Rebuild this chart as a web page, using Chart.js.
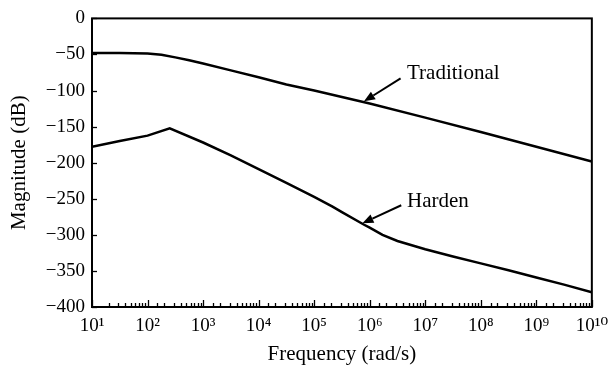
<!DOCTYPE html>
<html>
<head>
<meta charset="utf-8">
<script src="https://cdn.jsdelivr.net/npm/chart.js@4"></script>
<style>
  html, body { margin: 0; padding: 0; background: #fff; }
  #wrap { width: 616px; height: 370px; }
</style>
</head>
<body>
<div id="wrap"><canvas id="myChart" width="616" height="370"></canvas></div>
<script>
// frequency (rad/s) and magnitude (dB)
const tradFreq = [1e1, 3.16e1, 1e2, 1.78e2, 3.16e2, 5.62e2, 1e3, 3.16e3, 1e4, 3.16e4, 1e5, 1e6, 1e7, 1e8, 1e9, 1e10];
const tradMag  = [-48, -48, -48.5, -50.5, -54, -58, -62.5, -72, -81.5, -91.5, -100, -118, -137.5, -157.5, -178, -198.5];

const hardFreq = [1e1, 3.16e1, 1e2, 2.51e2, 1e3, 3.16e3, 1e4, 3.16e4, 1e5, 2.14e5, 3.16e5, 7.94e5, 1e6, 1.7e6, 3.16e6, 1e7, 3.16e7, 1e8, 3.16e8, 1e9, 3.16e9, 1e10];
const hardMag  = [-178, -170, -162.5, -152.5, -172, -190, -209, -228, -247.5, -261, -268.5, -286, -290, -300, -308.5, -320, -330, -339.5, -349, -359, -369, -379.5];

const yTicks = [0, -50, -100, -150, -200, -250, -300, -350, -400];
const supers = ['⁰', '¹', '²', '³', '⁴', '⁵', '⁶', '⁷', '⁸', '⁹'];

// labels with arrows: text anchor and arrow tail/tip in data units
const notes = [
  { text: 'Traditional', at: [4.7e6, -76], tail: [3.6e6, -83], tip: [7.9e5, -115] },
  { text: 'Harden', at: [4.7e6, -254], tail: [3.7e6, -259], tip: [7.4e5, -284] }
];

const FONT = '"Liberation Serif", "DejaVu Serif", serif';

function toPts(xs, ys) {
  return xs.map((x, i) => ({ x: x, y: ys[i] }));
}

function supNum(n) {
  return String(n).split('').map(d => supers[+d]).join('');
}

const frameAndTicks = {
  id: 'frameAndTicks',
  afterDraw(chart) {
    const ctx = chart.ctx;
    const a = chart.chartArea;
    const xs = chart.scales.x, ys = chart.scales.y;
    ctx.save();
    ctx.strokeStyle = '#000';
    ctx.lineWidth = 2;
    ctx.strokeRect(a.left, a.top, a.right - a.left, a.bottom - a.top);

    // inward ticks on bottom axis
    ctx.lineWidth = 1.3;
    xs.ticks.forEach(t => {
      const v = t.value;
      const e = Math.floor(Math.log10(v) + 1e-9);
      const m = Math.round(v / Math.pow(10, e));
      const len = m === 1 ? 7 : 4;
      const px = Math.round(xs.getPixelForValue(v)) + 0.5;
      ctx.beginPath();
      ctx.moveTo(px, a.bottom);
      ctx.lineTo(px, a.bottom - len);
      ctx.stroke();
    });
    // inward ticks on left axis
    yTicks.forEach(v => {
      const py = Math.round(ys.getPixelForValue(v)) + 0.5;
      ctx.beginPath();
      ctx.moveTo(a.left, py);
      ctx.lineTo(a.left + 5, py);
      ctx.stroke();
    });

    // notes with arrows
    ctx.fillStyle = '#000';
    ctx.font = '21px ' + FONT;
    ctx.textBaseline = 'middle';
    ctx.textAlign = 'left';
    notes.forEach(n => {
      ctx.fillText(n.text, xs.getPixelForValue(n.at[0]), ys.getPixelForValue(n.at[1]));
      const x0 = xs.getPixelForValue(n.tail[0]), y0 = ys.getPixelForValue(n.tail[1]);
      const x1 = xs.getPixelForValue(n.tip[0]), y1 = ys.getPixelForValue(n.tip[1]);
      const ang = Math.atan2(y1 - y0, x1 - x0);
      const hl = 11, hw = 4.5;
      const bx = x1 - hl * Math.cos(ang), by = y1 - hl * Math.sin(ang);
      ctx.lineWidth = 2;
      ctx.beginPath();
      ctx.moveTo(x0, y0);
      ctx.lineTo(bx, by);
      ctx.stroke();
      ctx.beginPath();
      ctx.moveTo(x1, y1);
      ctx.lineTo(bx + hw * Math.sin(ang), by - hw * Math.cos(ang));
      ctx.lineTo(bx - hw * Math.sin(ang), by + hw * Math.cos(ang));
      ctx.closePath();
      ctx.fill();
    });
    ctx.restore();
  }
};

const config = {
  type: 'line',
  data: {
    datasets: [{
      label: 'Traditional',
      data: toPts(tradFreq, tradMag),
      borderColor: '#000',
      borderWidth: 2.5,
      pointRadius: 0,
      tension: 0
    }, {
      label: 'Harden',
      data: toPts(hardFreq, hardMag),
      borderColor: '#000',
      borderWidth: 2.5,
      pointRadius: 0,
      tension: 0
    }]
  },
  options: {
    responsive: false,
    animation: false,
    layout: { padding: { left: 0, top: 16, right: 23, bottom: 0 } },
    plugins: {
      legend: { display: false },
      tooltip: { enabled: false }
    },
    scales: {
      x: {
        type: 'logarithmic',
        min: 1e1,
        max: 1e10,
        afterFit: s => { s.height = 63; },
        grid: { display: false, drawTicks: false },
        border: { display: false },
        ticks: {
          autoSkip: false,
          maxRotation: 0,
          padding: 8,
          color: '#000',
          font: { family: FONT, size: 19 },
          callback: function (v) {
            const e = Math.log10(v);
            if (Math.abs(e - Math.round(e)) < 1e-6) return '10' + supNum(Math.round(e));
            return '';
          }
        },
        title: {
          display: true,
          text: 'Frequency (rad/s)',
          color: '#000',
          font: { family: FONT, size: 21 },
          padding: { top: 0, bottom: 3 }
        }
      },
      y: {
        min: -400,
        max: 0,
        afterFit: s => { s.width = 92; },
        grid: { display: false, drawTicks: false },
        border: { display: false },
        ticks: {
          stepSize: 50,
          padding: 7,
          color: '#000',
          font: { family: FONT, size: 19 },
          callback: v => (v < 0 ? '\u2212' + Math.abs(v) : String(v))
        },
        title: {
          display: true,
          text: 'Magnitude (dB)',
          color: '#000',
          font: { family: FONT, size: 21 },
          padding: { top: 7, bottom: 0 }
        }
      }
    }
  },
  plugins: [frameAndTicks]
};

const myChart = new Chart(document.getElementById('myChart'), config);
</script>
</body>
</html>
